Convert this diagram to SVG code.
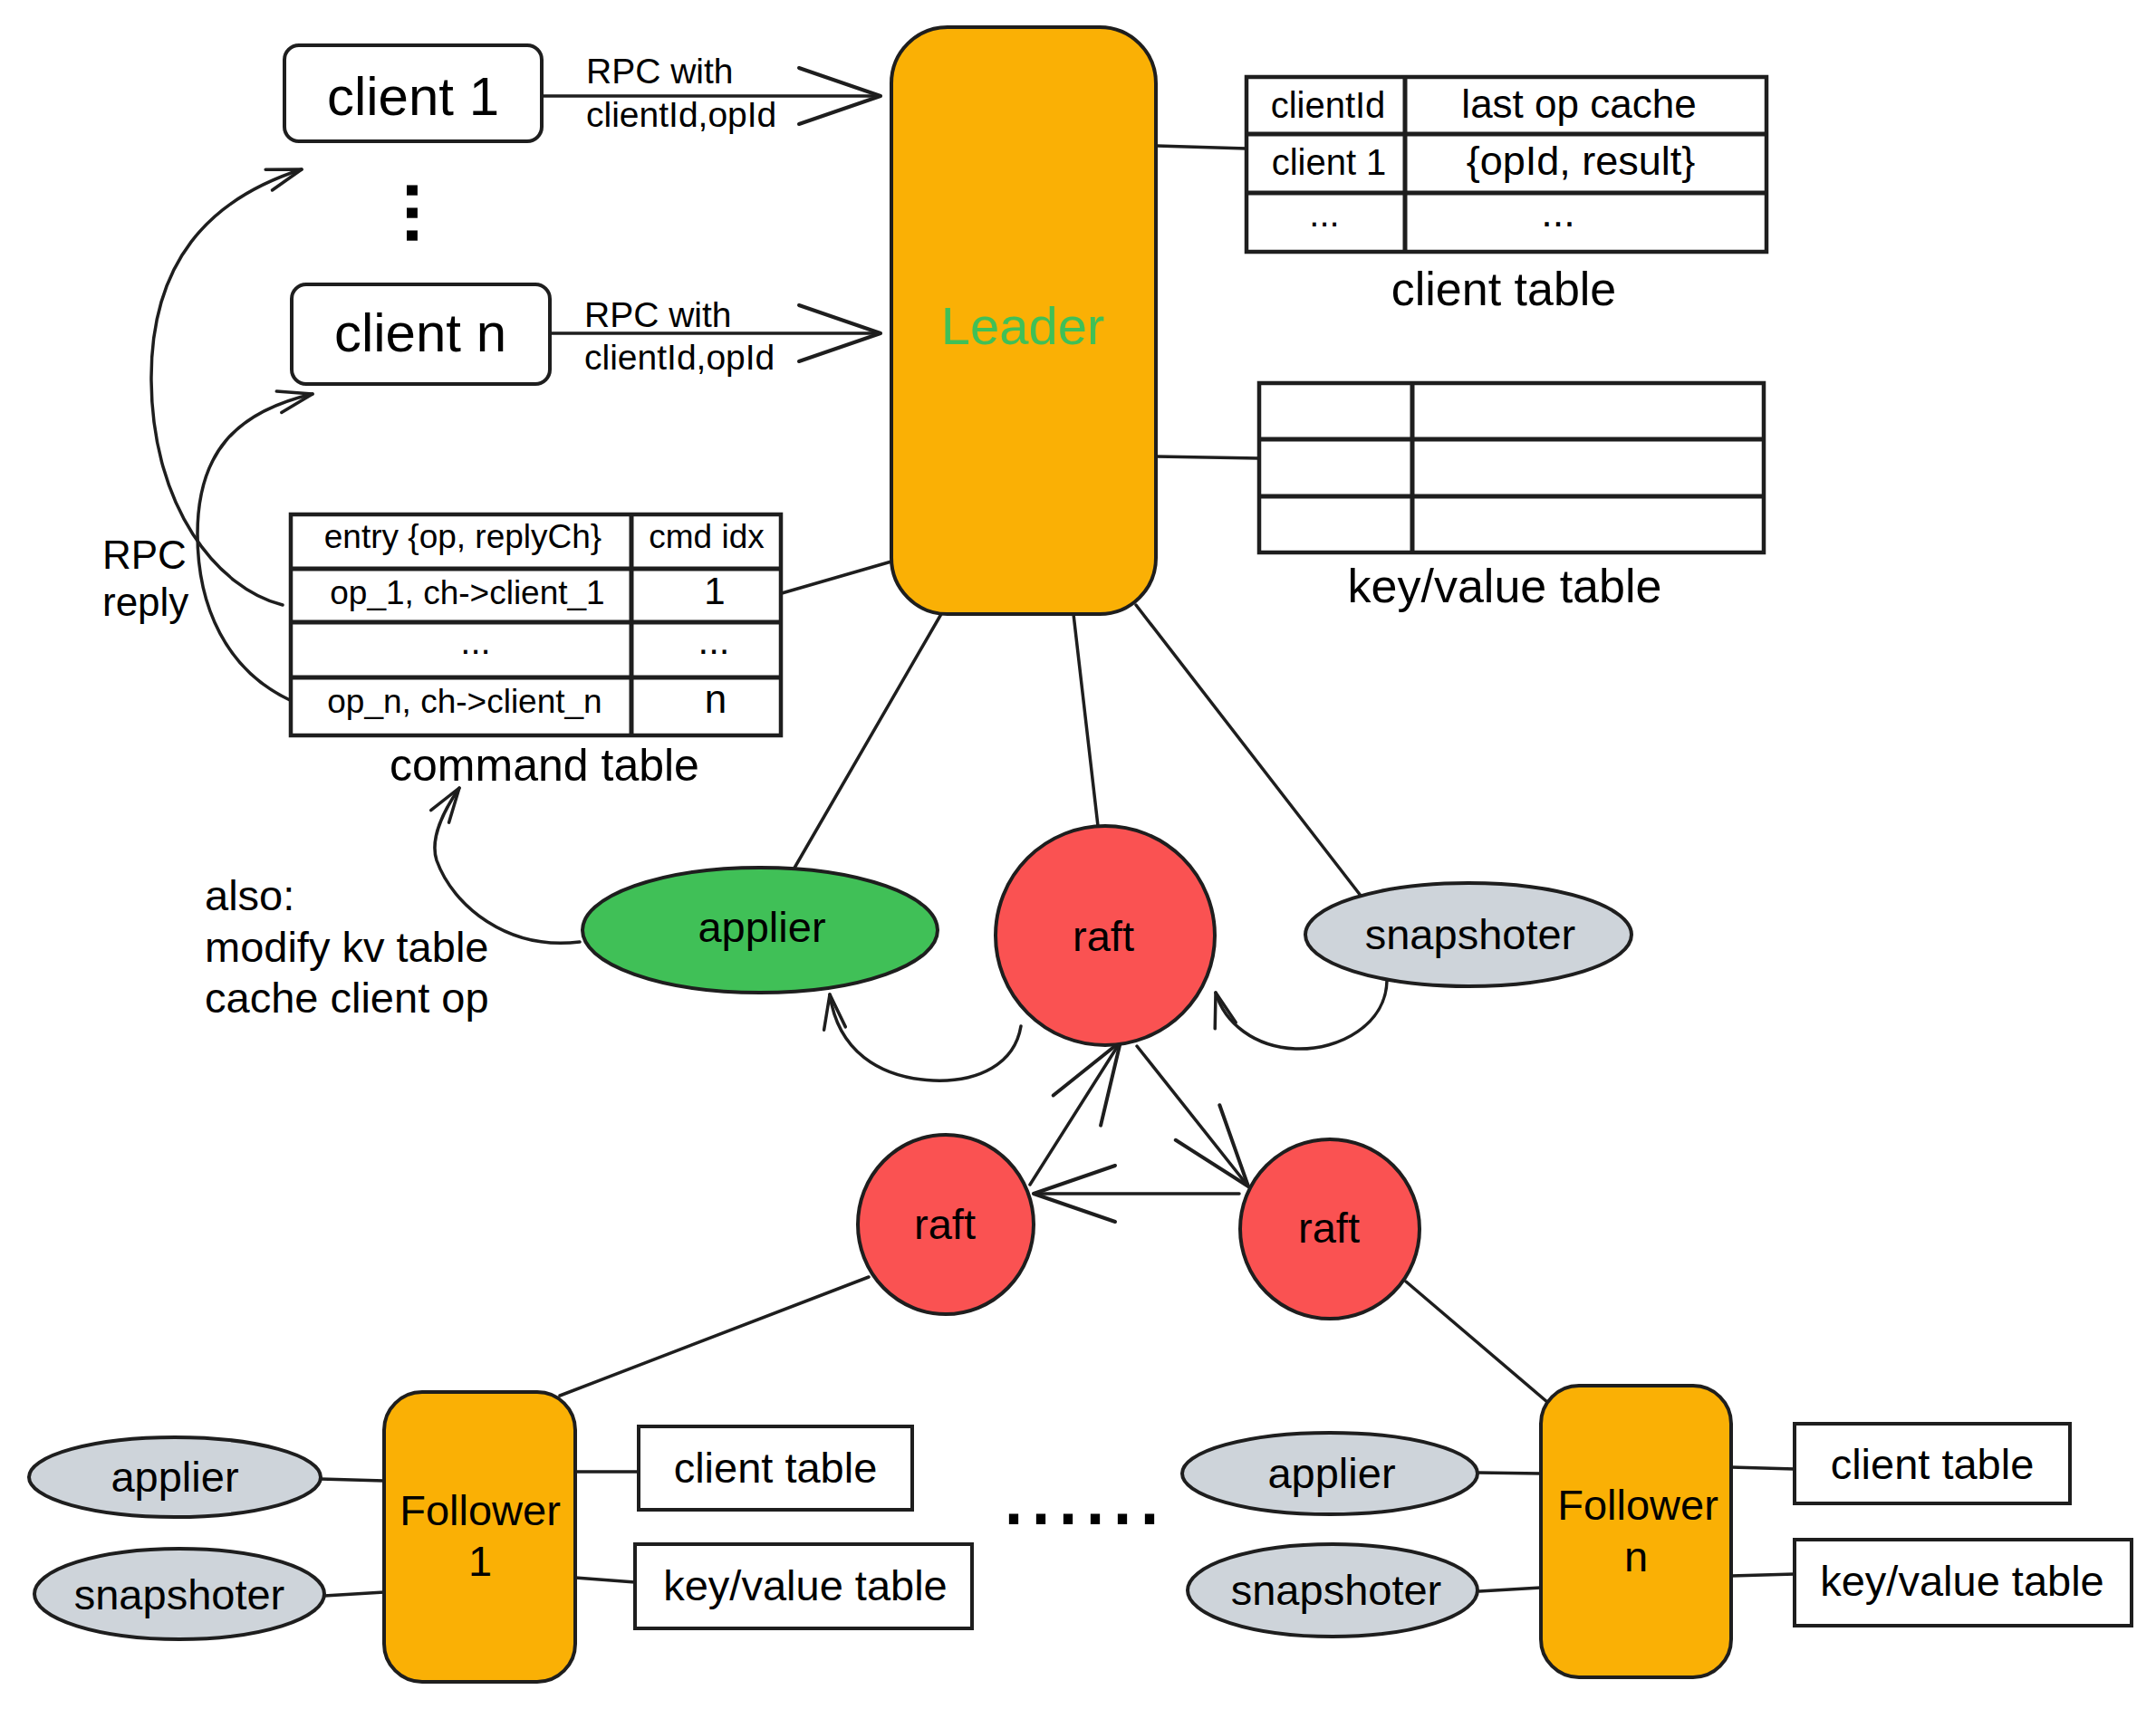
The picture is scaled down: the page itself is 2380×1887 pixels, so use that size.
<svg xmlns="http://www.w3.org/2000/svg" width="2380" height="1887" viewBox="0 0 2380 1887">
  <style>
    .ln { fill: none; stroke: #1e1e1e; stroke-width: 3.5; stroke-linecap: round; stroke-linejoin: round; }
    .box { fill: #ffffff; stroke: #1e1e1e; stroke-width: 4; }
    .tbl { fill: #ffffff; stroke: #1e1e1e; stroke-width: 4.5; }
    .grid { fill: none; stroke: #1e1e1e; stroke-width: 5; }
    .node { fill: #fab005; stroke: #1e1e1e; stroke-width: 4; }
    .raft { fill: #fa5252; stroke: #1e1e1e; stroke-width: 4; }
    .grey { fill: #ced4da; stroke: #1e1e1e; stroke-width: 4; }
    .green { fill: #40c057; stroke: #1e1e1e; stroke-width: 4; }
    text { font-family: "Liberation Sans", Arial, Helvetica, sans-serif; fill: #000000; }
    .c { text-anchor: middle; }
  </style>
  <defs>
    <marker id="ah" viewBox="-100 -40 110 80" markerWidth="110" markerHeight="80" refX="0" refY="0" orient="auto" markerUnits="userSpaceOnUse">
      <path d="M-90,-31 L0,0 L-90,31" fill="none" stroke="#1e1e1e" stroke-width="4" stroke-linecap="round" stroke-linejoin="round"/>
    </marker>
    <marker id="as" viewBox="-45 -20 50 40" markerWidth="50" markerHeight="40" refX="0" refY="0" orient="auto" markerUnits="userSpaceOnUse">
      <path d="M-38,-12 L0,0 L-38,12" fill="none" stroke="#1e1e1e" stroke-width="3.5" stroke-linecap="round" stroke-linejoin="round"/>
    </marker>
  </defs>

  <rect width="2380" height="1887" fill="#ffffff"/>

  <!-- connectors -->
  <g id="connectors">
    <!-- client requests -->
    <path class="ln" d="M598 106 L972 106" marker-end="url(#ah)"/>
    <path class="ln" d="M607 368 L972 368" marker-end="url(#ah)"/>
    <!-- replies back to clients -->
    <path class="ln" d="M312 668 C240 650 168 560 167 420 C166 290 230 220 333 187" marker-end="url(#as)"/>
    <path class="ln" d="M320 773 C250 740 218 670 218 590 C218 500 260 455 345 435" marker-end="url(#as)"/>
    <!-- leader links -->
    <path class="ln" d="M1277 161 L1376 164"/>
    <path class="ln" d="M1276 504 L1389 506"/>
    <path class="ln" d="M863 655 L984 620"/>
    <path class="ln" d="M1039 678 L876 960"/>
    <path class="ln" d="M1185 678 L1212 912"/>
    <path class="ln" d="M1254 668 L1506 994"/>
    <!-- leader service loops -->
    <path class="ln" d="M640 1040 C560 1050 500 1000 482 950 C474 925 490 895 507 870" marker-end="url(#as)"/>
    <path class="ln" d="M1127 1133 C1120 1175 1080 1195 1030 1193 C970 1190 925 1160 916 1098" marker-end="url(#as)"/>
    <path class="ln" d="M1531 1083 C1530 1130 1480 1160 1430 1158 C1385 1156 1352 1130 1342 1096" marker-end="url(#as)"/>
    <!-- raft peers -->
    <path class="ln" d="M1137 1308 L1237 1150" marker-end="url(#ah)"/>
    <path class="ln" d="M1255 1155 L1378 1310" marker-end="url(#ah)"/>
    <path class="ln" d="M1368 1318 L1141 1318" marker-end="url(#ah)"/>
    <path class="ln" d="M959 1410 L618 1541"/>
    <path class="ln" d="M1552 1415 L1708 1548"/>
    <!-- follower 1 links -->
    <path class="ln" d="M354 1633 L424 1635"/>
    <path class="ln" d="M358 1762 L424 1758"/>
    <path class="ln" d="M635 1625 L705 1625"/>
    <path class="ln" d="M635 1742 L701 1747"/>
    <!-- follower n links -->
    <path class="ln" d="M1631 1626 L1701 1627"/>
    <path class="ln" d="M1633 1757 L1701 1753"/>
    <path class="ln" d="M1911 1620 L1981 1622"/>
    <path class="ln" d="M1911 1740 L1981 1738"/>
  </g>

  <!-- clients -->
  <g id="client-1">
    <rect class="box" x="314" y="50" width="284" height="106" rx="16"/>
    <text class="c" x="456" y="127" font-size="60">client 1</text>
  </g>
  <g id="client-dots">
    <!-- vertical ellipsis: a row of dots turned to run downward -->
    <text x="0" y="0" font-size="80" font-weight="bold" letter-spacing="2.8" transform="translate(449 199) rotate(90)">...</text>
  </g>
  <g id="client-n">
    <rect class="box" x="322" y="314" width="285" height="110" rx="16"/>
    <text class="c" x="464" y="388" font-size="60">client n</text>
  </g>
  <g id="rpc-labels">
    <text x="647" y="92" font-size="39">RPC with</text>
    <text x="647" y="140" font-size="39">clientId,opId</text>
    <text x="645" y="361" font-size="39">RPC with</text>
    <text x="645" y="408" font-size="39">clientId,opId</text>
    <text x="113" y="628" font-size="44">RPC</text>
    <text x="113" y="680" font-size="44">reply</text>
  </g>

  <!-- leader -->
  <g id="leader">
    <rect class="node" x="984" y="30" width="292" height="648" rx="62"/>
    <text class="c" x="1129" y="380" font-size="58" style="fill:#40c057">Leader</text>
  </g>

  <!-- leader client table -->
  <g id="leader-client-table">
    <rect class="tbl" x="1376" y="85" width="574" height="193"/>
    <path class="grid" d="M1376 148 H1950 M1376 213 H1950 M1551 85 V278"/>
    <text class="c" x="1466" y="130" font-size="40">clientId</text>
    <text class="c" x="1743" y="130" font-size="44">last op cache</text>
    <text class="c" x="1467" y="193" font-size="40">client 1</text>
    <text class="c" x="1745" y="193" font-size="45">{opId, result}</text>
    <text class="c" x="1462" y="250" font-size="40">...</text>
    <text class="c" x="1720" y="250" font-size="45">...</text>
    <text class="c" x="1660" y="337" font-size="52">client table</text>
  </g>

  <!-- leader key/value table -->
  <g id="leader-kv-table">
    <rect class="tbl" x="1390" y="423" width="557" height="187"/>
    <path class="grid" d="M1390 485 H1947 M1390 548 H1947 M1559 423 V610"/>
    <text class="c" x="1661" y="665" font-size="52">key/value table</text>
  </g>

  <!-- command table -->
  <g id="command-table">
    <rect class="tbl" x="321" y="568" width="541" height="244"/>
    <path class="grid" d="M321 628 H862 M321 687 H862 M321 748 H862 M697 568 V812"/>
    <text class="c" x="511" y="605" font-size="37">entry {op, replyCh}</text>
    <text class="c" x="780" y="605" font-size="37">cmd idx</text>
    <text class="c" x="516" y="667" font-size="37">op_1, ch-&gt;client_1</text>
    <text class="c" x="789" y="667" font-size="42">1</text>
    <text class="c" x="525" y="722" font-size="40">...</text>
    <text class="c" x="788" y="722" font-size="42">...</text>
    <text class="c" x="513" y="787" font-size="37">op_n, ch-&gt;client_n</text>
    <text class="c" x="790" y="787" font-size="44">n</text>
    <text class="c" x="601" y="862" font-size="50">command table</text>
  </g>

  <!-- leader services -->
  <g id="leader-applier">
    <ellipse class="green" cx="839" cy="1027" rx="196" ry="69"/>
    <text class="c" x="841" y="1040" font-size="47">applier</text>
  </g>
  <g id="applier-note">
    <text x="226" y="1005" font-size="47">also:</text>
    <text x="226" y="1062" font-size="47">modify kv table</text>
    <text x="226" y="1118" font-size="47">cache client op</text>
  </g>
  <g id="leader-raft">
    <ellipse class="raft" cx="1220" cy="1033" rx="121" ry="121"/>
    <text class="c" x="1218" y="1050" font-size="47">raft</text>
  </g>
  <g id="leader-snapshoter">
    <ellipse class="grey" cx="1621" cy="1032" rx="180" ry="57"/>
    <text class="c" x="1623" y="1048" font-size="47">snapshoter</text>
  </g>

  <!-- follower rafts -->
  <g id="raft-1">
    <ellipse class="raft" cx="1044" cy="1352" rx="97" ry="99"/>
    <text class="c" x="1043" y="1368" font-size="47">raft</text>
  </g>
  <g id="raft-n">
    <ellipse class="raft" cx="1468" cy="1357" rx="99" ry="99"/>
    <text class="c" x="1467" y="1372" font-size="47">raft</text>
  </g>

  <!-- follower 1 -->
  <g id="follower-1">
    <rect class="node" x="424" y="1537" width="211" height="320" rx="42"/>
    <text class="c" x="530" y="1684" font-size="47">Follower</text>
    <text class="c" x="530" y="1740" font-size="47">1</text>
  </g>
  <g id="follower-1-applier">
    <ellipse class="grey" cx="193" cy="1631" rx="161" ry="44"/>
    <text class="c" x="193" y="1647" font-size="47">applier</text>
  </g>
  <g id="follower-1-snapshoter">
    <ellipse class="grey" cx="198" cy="1760" rx="160" ry="50"/>
    <text class="c" x="198" y="1777" font-size="47">snapshoter</text>
  </g>
  <g id="follower-1-client-table">
    <rect class="box" x="705" y="1575" width="302" height="92"/>
    <text class="c" x="856" y="1637" font-size="47">client table</text>
  </g>
  <g id="follower-1-kv-table">
    <rect class="box" x="701" y="1705" width="372" height="93"/>
    <text class="c" x="889" y="1767" font-size="47">key/value table</text>
  </g>

  <!-- more followers -->
  <g id="follower-dots">
    <text class="c" x="1194" y="1683" font-size="108">......</text>
  </g>

  <!-- follower n -->
  <g id="follower-n">
    <rect class="node" x="1701" y="1530" width="210" height="322" rx="42"/>
    <text class="c" x="1808" y="1678" font-size="47">Follower</text>
    <text class="c" x="1806" y="1735" font-size="47">n</text>
  </g>
  <g id="follower-n-applier">
    <ellipse class="grey" cx="1468" cy="1627" rx="163" ry="45"/>
    <text class="c" x="1470" y="1643" font-size="47">applier</text>
  </g>
  <g id="follower-n-snapshoter">
    <ellipse class="grey" cx="1471" cy="1756" rx="160" ry="51"/>
    <text class="c" x="1475" y="1772" font-size="47">snapshoter</text>
  </g>
  <g id="follower-n-client-table">
    <rect class="box" x="1981" y="1572" width="304" height="88"/>
    <text class="c" x="2133" y="1633" font-size="47">client table</text>
  </g>
  <g id="follower-n-kv-table">
    <rect class="box" x="1981" y="1700" width="372" height="95"/>
    <text class="c" x="2166" y="1762" font-size="47">key/value table</text>
  </g>
</svg>
